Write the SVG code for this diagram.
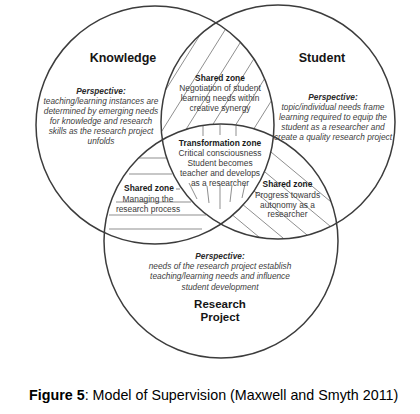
<svg xmlns="http://www.w3.org/2000/svg" width="420" height="414" viewBox="0 0 420 414">
<style>
.c{fill:none;stroke:#3c3c3c;stroke-width:1.5}
.h line{stroke:#8f8f8f;stroke-width:1;fill:none}
text{font-family:"Liberation Sans",Arial,Helvetica,sans-serif;text-anchor:middle}
.ttl{font-size:12.5px;font-weight:bold;fill:#151515}
.ttl2{font-size:11.5px;font-weight:bold;fill:#151515}
.ps{font-size:8.3px;font-style:italic;fill:#404040}
.psh{font-size:8.3px;font-style:italic;font-weight:bold;fill:#2a2a2a}
.zh{font-size:8.4px;font-weight:bold;fill:#1a1a1a}
.zt{font-size:8.4px;fill:#3a3a3a}
.cap{font-size:14.3px;fill:#000;text-anchor:start}
</style>
<defs>
<clipPath id="cK"><circle cx="155" cy="125" r="119"/></clipPath>
<clipPath id="cS"><circle cx="278" cy="122" r="117"/></clipPath>
<clipPath id="cR"><circle cx="221" cy="241" r="117"/></clipPath>
<clipPath id="nK"><path clip-rule="evenodd" d="M0 0H420V414H0Z M274 125A119 119 0 1 0 36 125A119 119 0 1 0 274 125Z"/></clipPath>
<clipPath id="nS"><path clip-rule="evenodd" d="M0 0H420V414H0Z M395 122A117 117 0 1 0 161 122A117 117 0 1 0 395 122Z"/></clipPath>
<clipPath id="nR"><path clip-rule="evenodd" d="M0 0H420V414H0Z M338 241A117 117 0 1 0 104 241A117 117 0 1 0 338 241Z"/></clipPath>
</defs>

<g id="hatching">
  <g id="hatch-top" class="h" clip-path="url(#cK)"><g clip-path="url(#cS)"><g clip-path="url(#nR)">
    <line x1="150" y1="115" x2="260" y2="-61"/>
    <line x1="150" y1="150" x2="280" y2="-58"/>
    <line x1="150" y1="187" x2="290" y2="-37"/>
    <line x1="150" y1="225" x2="300" y2="-15"/>
    <line x1="150" y1="262" x2="300" y2="22"/>
    <line x1="150" y1="295" x2="300" y2="55"/>
  </g></g></g>
  <g id="hatch-left" class="h" clip-path="url(#cK)"><g clip-path="url(#cR)"><g clip-path="url(#nS)">
    <line x1="138" y1="158" x2="170" y2="158"/>
    <line x1="129" y1="174" x2="172" y2="174"/>
    <line x1="176" y1="189" x2="180" y2="189"/>
    <line x1="116" y1="202" x2="191" y2="202"/>
    <line x1="109" y1="215" x2="206" y2="215"/>
    <line x1="109" y1="229" x2="202" y2="229"/>
  </g></g></g>
  <g id="hatch-right" class="h" clip-path="url(#cS)"><g clip-path="url(#cR)"><g clip-path="url(#nK)">
    <line x1="200" y1="188" x2="360" y2="321"/>
    <line x1="200" y1="169" x2="360" y2="302"/>
    <line x1="200" y1="146" x2="360" y2="279"/>
    <line x1="200" y1="118" x2="360" y2="251"/>
    <line x1="200" y1="93" x2="360" y2="226"/>
  </g></g></g>
  <g id="hatch-center" class="h">
    <line x1="203" y1="126" x2="203" y2="136"/>
    <line x1="220" y1="125" x2="220" y2="135"/>
    <line x1="236" y1="126" x2="236" y2="136"/>
    <line x1="189" y1="183" x2="197" y2="199"/>
    <line x1="207" y1="186" x2="209" y2="203"/>
    <line x1="220" y1="184" x2="220" y2="209"/>
    <line x1="232" y1="185" x2="230" y2="202"/>
    <line x1="245" y1="184" x2="242" y2="198"/>
  </g>
</g>

<g id="circles">
  <circle id="knowledge-circle" class="c" cx="155" cy="125" r="119"/>
  <circle id="student-circle" class="c" cx="278" cy="122" r="117"/>
  <circle id="research-circle" class="c" cx="221" cy="241" r="117"/>
</g>

<g id="knowledge">
  <text class="ttl" x="123" y="62">Knowledge</text>
  <text class="psh" x="101" y="93.5">Perspective:</text>
  <text class="ps" x="101" y="103.6">teaching/learning instances are</text>
  <text class="ps" x="101" y="113.7">determined by emerging needs</text>
  <text class="ps" x="101" y="123.8">for knowledge and research</text>
  <text class="ps" x="101" y="133.9">skills as the research project</text>
  <text class="ps" x="101" y="144">unfolds</text>
</g>

<g id="student">
  <text class="ttl" x="322" y="62">Student</text>
  <text class="psh" x="333" y="99.5">Perspective:</text>
  <text class="ps" x="333" y="109.5">topic/individual needs frame</text>
  <text class="ps" x="333" y="119.5">learning required to equip the</text>
  <text class="ps" x="333" y="129.5">student as a researcher and</text>
  <text class="ps" x="333" y="139.5">create a quality research project</text>
</g>

<g id="research-project">
  <text class="psh" x="220" y="258.5">Perspective:</text>
  <text class="ps" x="220" y="269">needs of the research project establish</text>
  <text class="ps" x="220" y="279">teaching/learning needs and influence</text>
  <text class="ps" x="220" y="289.5">student development</text>
  <text class="ttl2" x="220" y="308">Research</text>
  <text class="ttl2" x="220" y="321">Project</text>
</g>

<g id="zone-knowledge-student">
  <text class="zh" x="220" y="81">Shared zone</text>
  <text class="zt" x="220" y="91">Negotiation of student</text>
  <text class="zt" x="220" y="101">learning needs within</text>
  <text class="zt" x="220" y="111">creative synergy</text>
</g>

<g id="zone-transformation">
  <text class="zh" x="220" y="146">Transformation zone</text>
  <text class="zt" x="220" y="156">Critical consciousness</text>
  <text class="zt" x="220" y="166">Student becomes</text>
  <text class="zt" x="220" y="176">teacher and develops</text>
  <text class="zt" x="220" y="185.5">as a researcher</text>
</g>

<g id="zone-knowledge-research">
  <text class="zh" x="149" y="191">Shared zone</text>
  <text class="zt" x="148" y="201.5">Managing the</text>
  <text class="zt" x="148" y="212">research process</text>
</g>

<g id="zone-student-research">
  <text class="zh" x="287.5" y="187">Shared zone</text>
  <text class="zt" x="287.5" y="197.5">Progress towards</text>
  <text class="zt" x="287.5" y="207.5">autonomy as a</text>
  <text class="zt" x="287.5" y="217">researcher</text>
</g>

<g id="caption">
  <text class="cap" x="29" y="399.5"><tspan font-weight="bold">Figure 5</tspan>: Model of Supervision (Maxwell and Smyth 2011)</text>
</g>
</svg>
